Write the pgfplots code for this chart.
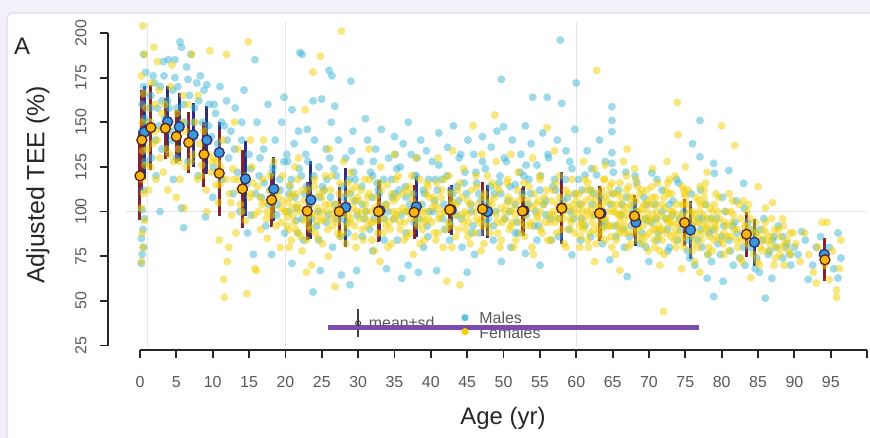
\documentclass[border=0pt]{standalone}
\usepackage{fontspec}
\setmainfont{Liberation Sans}
\usepackage{pgfplots}
\pgfplotsset{compat=1.18}
\definecolor{bgout}{HTML}{F3F0FA}
\definecolor{panelbd}{HTML}{E2D6F2}
\definecolor{mcyan}{HTML}{3FB6D6}
\definecolor{fyel}{HTML}{F2D000}
\definecolor{mfill}{HTML}{3C97DA}
\definecolor{mbar}{HTML}{2C2F7C}
\definecolor{ffill}{HTML}{F5B614}
\definecolor{fbar}{HTML}{86222F}
\definecolor{fedge}{HTML}{5A2414}
\definecolor{purp}{HTML}{7D4BAE}
\definecolor{refl}{HTML}{E4E4E4}
\begin{document}
\begin{tikzpicture}[x=1bp,y=1bp]
\useasboundingbox (0,0) rectangle (870,438);
\fill[bgout] (0,0) rectangle (870,438);
\filldraw[fill=white, draw=panelbd, line width=1.2bp, rounded corners=6bp] (7,425) rectangle (890,-20);
\node[font=\fontsize{24}{24}\selectfont, text=black!85] at (22,392) {A};
\node[font=\fontsize{24}{24}\selectfont, text=black!85] at (503,20) {Age (yr)};
\node[font=\fontsize{25}{25}\selectfont, text=black!85, rotate=90] at (38,253) {Adjusted TEE (\%)};
\begin{axis}[
  at={(108bp,88bp)}, anchor=south west, scale only axis,
  width=762bp, height=334.9bp,
  xmin=-4.4, xmax=100.4, ymin=22.5, ymax=210,
  axis lines=left, axis line style={draw=none},
  clip=false,
  tick align=outside, major tick length=8bp,
  tick style={line width=1.8bp, black!85},
  xtick={0,5,...,100},
  xticklabels={0,5,10,15,20,25,30,35,40,45,50,55,60,65,70,75,80,85,90,95,},
  ytick={25,50,...,200},
  yticklabels={25,50,75,100,125,150,175,200},
  /pgf/number format/assume math mode=true,
  xticklabel style={font=\fontsize{16}{16}\selectfont, text=black!65, yshift=-15bp},
  yticklabel style={font=\fontsize{16}{16}\selectfont, text=black!65, xshift=-10bp, rotate=90, anchor=south},
]
% faint reference lines
\draw[refl, line width=1bp] (axis cs:1,24) -- (axis cs:1,206);
\draw[refl, line width=1bp] (axis cs:20,24) -- (axis cs:20,206);
\draw[refl, line width=1bp] (axis cs:60,24) -- (axis cs:60,206);
\draw[refl, line width=1bp] (axis cs:-2,100) -- (axis cs:100,100);
% axis lines
\draw[black!85, line width=1.8bp] (axis cs:0,22.5) -- (axis cs:100,22.5);
\draw[black!85, line width=1.8bp] (axis cs:-4.4,25) -- (axis cs:-4.4,200);

% males scatter
\addplot[only marks, mark=*, mark size=4bp, mark options={fill=mcyan, draw opacity=0, fill opacity=0.5}] coordinates {
(0.2,71)(0.3,76)(0.5,80)(0.2,85)(0.4,90)(0.6,96)(0.3,101)(0.5,112)(0.7,128)(0.4,140)(0.6,152)(0.3,160)(0.5,170)(0.5,188)(0.8,178)(0.2,145)
(1.2,150)(1.5,165)(1.8,176)(2.1,140)(2.4,158)(2.75,100)(2.8,170)(3.2,184)(3.5,152)(3.8,162)(1.6,130)(2.2,120)(3.0,135)(3.9,185)
(4.2,145)(4.5,168)(4.8,175)(5.1,158)(5.5,195)(5.7,192)(5.7,102)(6.0,91)(6.2,150)(6.4,181)(6.8,165)(7.2,140)(7.5,158)(7.8,172)(5.0,130)(4.6,118)(6.6,128)(7.0,188)
(8.3,176)(8.6,150)(8.9,132)(9.2,171)(9.5,160)(9.8,142)(10.1,125)(10.4,155)(10.7,138)(11.0,170)(11.3,118)(11.6,148)(11.9,162)(8.0,120)(10.0,108)(9.0,97)
(1.4,158)(2.0,172)(2.6,148)(3.3,176)(4.0,158)(4.4,140)(5.2,170)(6.0,160)(6.6,174)(7.4,150)(8.1,162)(8.8,168)(9.4,148)(10.2,160)(11.2,150)(12.0,140)(13.0,135)(14.0,150)(4.8,185)(3.0,162)
(12.2,130)(12.5,145)(12.8,110)(13.1,158)(13.4,122)(13.7,100)(14.0,140)(14.3,168)(14.6,115)(15.0,132)(15.3,98)(15.6,76)(15.8,185)(16.1,150)(16.4,120)(16.7,108)(17.0,135)(17.3,92)(17.6,160)(18.1,76)(18.3,125)(18.6,140)(18.9,104)(19.2,118)(19.5,150)(19.8,164)(19.9,88)(17.9,112)(14.8,88)
(20.3,128)(20.5,110)(20.9,157)(20.9,71)(21.2,138)(21.5,95)(21.8,145)(22.0,189)(22.2,120)(22.5,84)(22.8,132)(23.0,146)(23.3,105)(23.8,162)(23.8,55)(24.0,140)(24.3,92)(24.6,125)(24.8,67)(25.0,163)(25.3,112)(25.6,135)(25.9,98)(26.0,179)(26.3,150)(26.5,80)(26.8,159)(27.0,120)(27.3,140)(27.7,64.5)(28.0,108)(28.3,130)(28.6,88)(28.9,59)(29.0,173)(29.3,145)(29.6,118)(29.8,67)(26.4,176)(22.3,188)(27.0,96)
(30.3,128)(30.6,104)(31.0,152)(31.3,140)(31.6,90)(32.0,120)(32.4,135)(32.8,112)(33.2,146)(33.6,96)(33.9,68)(34.2,130)(34.6,118)(35.0,142)(35.4,84)(35.8,125)(36.0,62.6)(36.2,138)(36.6,108)(36.9,150)(36.9,70)(37.3,132)(37.7,94)(38.0,120)(38.3,66)(38.6,140)(39.0,112)(39.4,134)(39.8,100)(32.0,78)(35.0,110)(39.0,80)
(40.2,128)(40.5,106)(40.8,67)(41.1,144)(41.5,118)(41.9,90)(42.3,136)(42.7,112)(43.1,148)(43.5,98)(43.9,130)(44.3,80)(44.7,122)(45.0,66)(45.1,140)(45.5,104)(45.9,132)(46.3,116)(46.7,88)(47.1,142)(47.5,124)(47.9,96)(48.3,136)(48.7,110)(49.1,145)(49.7,72)(49.7,174)(50.0,147.5)(49.5,120)(43.0,110)(46.0,76)
(50.4,128)(50.8,100)(51.2,140)(51.6,115)(52.0,88)(52.4,132)(52.8,120)(53.0,148)(53.0,76.6)(53.4,104)(53.8,138)(54.0,164)(54.2,92)(54.6,126)(55.0,112)(55.4,144)(55.8,98)(56.0,164)(56.2,130)(56.6,84)(57.0,118)(57.4,140)(57.8,196)(58.0,160.6)(58.2,106)(58.6,134)(59.0,90)(59.4,75.7)(59.4,124)(59.8,146)(51.0,80)(55.0,70)
(60.0,172)(60.3,118)(60.7,96)(61.2,120.5)(61.5,134)(62.0,86)(62.4,110)(62.8,120.5)(63.2,140)(63.6,100)(64.0,128)(64.6,73)(64.9,158.7)(64.9,151)(64.9,144.7)(64.9,133)(64.9,127)(65.3,92)(65.8,112)(66.3,104)(66.8,122)(67.0,63.6)(67.3,86)(67.8,100)(68.3,116)(68.8,82)(69.3,108)(69.8,95)(70.0,72)
(70.4,121.6)(70.8,104)(71.3,88)(71.8,112)(72.3,96)(72.8,80)(73.3,106)(73.8,118)(74.3,90)(74.8,100)(75.3,84)(75.8,110)(76.0,138)(76.3,70)(76.8,96)(77.0,151)(77.0,130.7)(77.3,80)(77.8,104)(78.0,62.7)(78.3,88)(78.9,127)(78.9,52.4)(79.0,121.4)(79.3,96)(79.8,76)
(80.2,61)(80.5,100)(81.0,123)(81.0,84)(81.5,92)(82.0,106)(82.5,74)(83.0,115.8)(83.2,70)(83.6,94)(84.0,80)(84.6,88)(85.2,66)(85.8,96)(86.0,51.5)(86.4,76)(86.9,62.6)(87.2,86)(87.8,92)(88.4,74)(89.0,82)(89.5,70)(90.0,80)
(90.5,76)(91.0,88.8)(91.5,84)(91.9,62)(92.5,70)(93.0,80)(93.6,86)(94.2,72)(94.8,80)(95.4,68)(96.0,88)(96.0,62.8)(96.4,74)
(15.2,124)(15.9,110)(16.5,130)(17.1,116)(17.7,104)(18.2,122)(18.8,98)(19.3,112)(19.8,128)
(20.4,100)(20.8,118)(21.3,108)(21.9,124)(22.3,96)(22.9,114)(23.4,104)(23.9,120)(24.5,100)(25.1,114)(25.6,94)(26.2,108)(26.7,124)(27.3,100)(27.8,114)(28.4,94)(28.9,110)(29.4,122)(29.9,98)
(30.5,114)(31.1,100)(31.7,122)(32.2,96)(32.9,110)(33.5,118)(34.1,100)(34.7,108)(35.3,124)(35.9,98)(36.5,114)(37.1,104)(37.8,120)(38.4,96)(39.1,110)(39.7,118)
(40.3,100)(40.9,112)(41.6,96)(42.2,120)(42.9,104)(43.6,114)(44.2,96)(44.9,110)(45.6,100)(46.2,122)(46.9,106)(47.6,94)(48.2,114)(48.9,100)(49.6,110)
(50.2,96)(50.9,114)(51.6,104)(52.3,122)(53.1,98)(53.7,110)(54.4,100)(55.1,120)(55.8,106)(56.5,96)(57.2,112)(57.9,102)(58.5,118)(59.2,100)(59.8,110)
(60.5,104)(61.2,92)(61.9,112)(62.6,98)(63.3,108)(64.0,94)(64.7,104)(65.5,86)(66.2,98)(66.9,108)(67.6,92)(68.3,100)(69.0,88)(69.7,104)
(70.4,94)(71.1,84)(71.8,100)(72.5,90)(73.2,98)(73.9,84)(74.6,94)(75.3,78)(76.0,92)(76.7,84)(77.4,96)(78.1,76)(78.8,90)(79.5,82)
(80.3,92)(81.2,78)(82.1,88)(83.0,80)(83.9,90)(84.8,74)(85.7,84)(86.6,78)(87.5,80)(88.4,86)(89.4,76)
(20.6,114)(21.5,102)(22.6,110)(23.6,96)(24.7,108)(25.7,118)(26.8,104)(27.9,96)(28.8,118)(29.6,106)(30.8,96)(31.9,108)(32.6,116)(33.8,104)(34.9,96)(35.6,112)(36.8,100)(37.6,110)(38.8,104)(39.5,92)
(40.6,118)(41.8,104)(42.6,94)(43.8,106)(44.6,116)(45.8,92)(46.6,110)(47.8,104)(48.6,92)(49.4,116)(50.6,106)(51.8,94)(52.6,110)(53.5,118)(54.8,92)(55.5,104)(56.8,114)(57.6,96)(58.8,108)(59.6,96)
(60.8,112)(62.2,104)(63.8,92)(65.0,110)(66.5,90)(67.9,104)(69.5,96)(71.0,96)(72.8,104)(74.2,96)(75.8,86)(77.1,90)(78.5,96)(80.0,86)(81.8,94)(83.5,86)(85.3,90)(87.0,84)(88.8,80)
(20.2,132)(21.7,88)(23.1,128)(24.6,84)(26.1,130)(27.6,86)(29.1,134)(30.6,86)(32.1,128)(33.6,84)(35.1,132)(36.6,88)(38.1,130)(39.6,86)(41.1,126)(42.6,84)(44.1,132)(45.6,88)(47.1,128)(48.6,84)
(50.1,130)(51.6,88)(53.1,126)(54.6,84)(56.1,132)(57.6,86)(59.1,128)(60.6,84)(62.1,124)(63.6,82)(65.1,122)(66.6,80)(68.1,120)(69.6,80)(71.1,118)(72.6,78)(74.1,116)(75.6,74)(77.1,112)(78.6,72)(80.1,108)(81.6,70)(83.1,102)(84.6,68)
};

% females scatter
\addplot[only marks, mark=*, mark size=4bp, mark options={fill=fyel, draw opacity=0, fill opacity=0.5}] coordinates {
(0.2,72)(0.4,80)(0.3,88)(0.6,95)(0.2,102)(0.5,110)(0.3,118)(0.7,126)(0.4,134)(0.6,142)(0.3,150)(0.8,158)(0.5,166)(0.2,176)(0.6,188)(0.4,204)
(1.2,112)(1.5,125)(1.8,138)(1.4,150)(2.1,160)(1.6,172)(2.4,184)(2.7,130)(2.2,118)(2.9,146)(1.9,192)(2.6,168)
(3.2,122)(3.6,135)(3.9,148)(3.4,160)(4.2,170)(4.6,128)(4.8,142)(5.1,155)(5.5,118)(5.3,135)(5.8,150)(4.4,182)(5.9,165)(3.8,112)(6.1,102)(5.0,108)
(6.4,125)(6.8,140)(7.1,188)(7.3,132)(7.6,150)(7.9,118)(8.2,138)(8.5,126)(8.8,145)(9.1,112)(9.4,132)(9.6,190)(9.8,122)(6.6,160)(8.0,165)(9.2,100)
(1.0,135)(2.0,145)(3.0,155)(4.0,132)(5.4,128)(6.2,145)(7.0,128)(8.4,120)(9.9,128)(11.0,115)(12.5,105)(13.5,118)(14.0,100)(2.4,140)(4.2,150)
(10.2,130)(10.5,115)(10.8,105)(11.1,125)(11.5,62)(11.6,52)(11.9,188)(12.0,72)(12.3,110)(12.6,98)(12.9,118)(13.2,88)(13.5,135)(13.8,104)(12.2,80)(11.4,140)(10.9,84)(13.0,150)
(14.2,115)(14.5,95)(14.7,54)(14.9,195)(15.1,108)(15.4,125)(15.8,68)(16.0,67)(16.3,100)(16.6,90)(16.9,118)(17.2,105)(17.5,85)(17.8,112)(18.1,98)(18.4,128)(18.7,92)(19.0,108)(19.3,80)(19.6,120)(19.9,100)(15.2,140)(17.0,140)
(20.2,92)(20.4,105)(20.6,115)(20.8,84)(21.0,98)(21.3,125)(21.5,110)(21.7,88)(22.0,102)(22.3,78)(22.5,95)(22.7,157)(22.9,66)(23.1,112)(23.3,104)(23.5,90)(23.8,178)(24.0,118)(24.2,98)(24.5,85)(24.8,187)(25.0,108)(25.2,95)(25.5,120)(25.7,100)(25.9,75)(26.2,112)(26.5,92)(26.8,58)(27.0,104)(27.2,88)(27.5,116)(27.7,201)(28.0,98)(28.3,82)(28.5,110)(28.8,94)(29.0,122)(29.3,102)(29.6,86)(29.9,108)(21.8,130)(26.0,135)(28.0,128)(23.6,70)
(30.2,96)(30.4,112)(30.7,84)(31.0,104)(31.3,92)(31.6,118)(31.9,100)(32.2,78)(32.5,108)(32.8,95)(33.1,125)(33.4,88)(33.7,102)(34.0,115)(34.3,94)(34.6,82)(34.9,106)(35.2,98)(35.5,120)(35.8,90)(36.1,110)(36.4,100)(36.7,86)(37.0,114)(37.3,96)(37.6,76)(37.9,104)(38.2,92)(38.5,118)(38.8,100)(39.1,84)(39.4,110)(39.7,96)(31.5,135)(35.0,132)(38.0,130)(33.0,72)
(40.2,102)(40.5,88)(40.8,116)(41.1,96)(41.4,108)(41.7,80)(42.0,100)(42.2,61)(42.5,120)(42.8,92)(43.1,104)(43.4,86)(43.7,112)(44.0,59)(44.2,98)(44.5,124)(44.8,90)(45.1,106)(45.4,82)(45.8,148)(46.0,100)(46.3,114)(46.6,94)(46.9,78)(47.2,108)(47.5,98)(47.8,120)(48.1,88)(48.4,104)(48.8,154)(49.1,94)(49.4,112)(49.7,84)(41.0,130)(43.0,134)(47.0,132)(49.0,128)
(50.2,100)(50.5,116)(50.8,90)(51.1,106)(51.4,80)(51.7,98)(52.0,122)(52.3,94)(52.6,108)(52.9,86)(53.2,102)(53.5,114)(53.8,92)(54.1,76)(54.4,104)(54.7,96)(55.0,118)(55.3,88)(55.6,108)(56.0,147)(56.2,98)(56.5,84)(56.8,112)(57.1,94)(57.4,104)(57.7,120)(58.0,90)(58.3,100)(58.6,80)(58.9,110)(59.2,96)(59.5,104)(59.8,88)(51.0,132)(54.0,130)(57.0,134)
(60.2,98)(60.4,110)(60.6,86)(60.8,104)(61.0,92)(61.2,118)(61.5,100)(61.7,80)(62.0,108)(62.2,94)(62.5,124)(62.8,179)(63.0,88)(63.2,102)(63.5,112)(63.8,96)(64.0,84)(64.3,106)(64.6,92)(64.9,116)(65.1,100)(65.4,76)(65.7,110)(66.0,67)(66.0,94)(66.3,104)(66.6,88)(66.9,120)(67.0,135)(67.2,98)(67.5,82)(67.8,108)(68.1,92)(68.4,114)(68.7,100)(69.0,86)(69.3,104)(69.6,96)(69.9,78)(61.0,128)(64.0,126)(68.0,124)(62.5,72)(66.5,128)(63.6,90)(65.8,98)(69.0,112)
(70.2,94)(70.4,108)(70.7,84)(71.0,100)(71.2,116)(71.5,90)(71.8,104)(72.0,44)(72.1,76)(72.4,96)(72.7,110)(73.0,86)(73.3,100)(73.6,120)(73.9,161)(74.0,143)(74.2,92)(74.5,104)(74.8,80)(75.1,96)(75.4,112)(75.7,88)(76.0,100)(76.3,72)(76.6,94)(76.9,106)(77.2,84)(77.5,98)(77.8,116)(78.1,90)(78.4,102)(78.7,78)(79.0,94)(79.3,86)(79.6,108)(80.0,148)(70.5,124)(72.5,128)(75.0,125)(78.0,122)(71.5,70)(74.5,68)(77.0,66)(73.0,94)(76.0,90)
(80.3,88)(80.6,100)(81.0,78)(81.4,94)(81.8,137)(82.0,84)(82.4,104)(82.8,72)(83.2,92)(83.6,82)(84.0,63)(84.0,96)(84.4,76)(84.8,88)(85.0,114)(85.2,70)(85.6,84)(86.0,94)(86.4,78)(86.8,86)(87.0,105)(87.4,74)(87.8,90)(88.2,80)(88.6,70)(89.0,84)(89.5,76)(81.0,110)(83.0,106)
(90.2,82)(90.8,72)(91.4,88)(92.0,76)(92.6,66)(93.2,80)(93.8,94)(94.2,70)(94.5,94)(94.8,62)(95.2,78)(95.8,56)(95.8,52)(96.2,68)(96.4,84)(93.0,60)
(15.3,110)(15.7,98)(16.2,114)(16.8,104)(17.4,96)(17.9,120)(18.3,102)(18.9,112)(19.4,94)(19.7,106)
(20.1,100)(20.5,90)(20.9,110)(21.2,94)(21.6,104)(22.1,86)(22.4,112)(22.8,100)(23.2,92)(23.7,108)(24.1,88)(24.4,102)(24.9,96)(25.3,112)(25.8,90)(26.1,104)(26.6,100)(27.1,94)(27.4,110)(27.9,88)(28.2,104)(28.7,98)(29.1,112)(29.5,92)(29.8,100)
(30.1,106)(30.6,90)(31.1,100)(31.5,110)(31.8,94)(32.3,102)(32.7,88)(33.2,112)(33.5,96)(33.9,104)(34.4,90)(34.8,100)(35.3,108)(35.7,94)(36.2,102)(36.6,112)(37.1,88)(37.5,106)(38.0,96)(38.4,104)(38.9,90)(39.3,100)(39.8,108)
(40.1,94)(40.6,104)(41.0,88)(41.5,112)(41.9,100)(42.4,94)(42.9,106)(43.3,98)(43.8,90)(44.3,108)(44.7,100)(45.2,94)(45.6,112)(46.1,88)(46.5,104)(47.0,96)(47.4,110)(47.9,92)(48.3,100)(48.8,108)(49.2,88)(49.6,102)
(50.1,96)(50.6,108)(51.0,92)(51.5,102)(51.9,112)(52.4,88)(52.8,100)(53.3,106)(53.7,94)(54.2,110)(54.6,98)(55.1,90)(55.5,104)(55.9,112)(56.4,94)(56.8,100)(57.3,88)(57.7,108)(58.2,96)(58.6,112)(59.1,90)(59.6,100)
(60.0,106)(60.5,92)(60.9,100)(61.4,112)(61.8,88)(62.3,98)(62.7,106)(63.1,92)(63.6,104)(64.0,96)(64.5,110)(64.8,86)(65.3,100)(65.7,92)(66.2,108)(66.6,96)(67.1,88)(67.4,104)(67.9,94)(68.3,100)(68.8,110)(69.2,92)(69.7,100)
(70.0,88)(70.5,98)(70.9,108)(71.4,92)(71.8,84)(72.2,102)(72.6,94)(73.1,110)(73.5,88)(73.9,98)(74.4,84)(74.8,104)(75.2,92)(75.6,100)(76.1,86)(76.5,108)(76.9,94)(77.4,88)(77.7,104)(78.2,80)(78.6,96)(79.1,90)(79.5,100)(79.9,84)
(80.4,94)(80.8,86)(81.3,100)(81.7,90)(82.2,80)(82.6,96)(83.1,86)(83.5,100)(84.2,84)(84.7,94)(85.3,80)(85.8,90)(86.3,84)(86.9,96)(87.5,80)(88.0,86)(88.5,92)(89.2,78)(89.8,88)
(61.1,96)(62.0,102)(63.0,110)(64.2,92)(65.0,104)(66.0,98)(67.0,102)(68.0,88)(69.0,96)(70.2,104)(71.1,96)(72.0,90)(73.0,100)(74.0,94)(75.0,108)(76.0,96)(77.0,100)(78.0,92)(79.0,104)
(65.5,84)(68.5,84)(72.8,118)(70.8,80)(74.6,114)(77.6,112)(76.8,80)(66.9,112)(63.9,118)(61.6,84)
(21.0,102)(23.0,96)(25.0,100)(27.0,98)(29.0,96)(31.0,96)(33.0,100)(35.0,96)(37.0,100)(39.0,96)(41.0,102)(43.0,100)(45.0,98)(47.0,102)(49.0,98)(51.0,100)(53.0,98)(55.0,100)(57.0,98)(59.0,102)
(20.3,97)(20.7,108)(21.4,90)(21.9,100)(22.6,106)(23.4,98)(24.3,94)(24.7,110)(25.5,104)(26.3,96)(27.6,102)(28.4,92)(29.2,106)(29.7,114)(30.4,100)(31.3,108)(32.0,94)(32.9,104)(33.8,92)(34.6,110)(35.5,100)(36.4,94)(37.3,110)(38.2,100)(39.1,94)(39.6,114)
(40.4,108)(41.2,98)(42.1,90)(42.7,110)(43.5,104)(44.5,94)(45.4,104)(46.3,96)(47.2,92)(48.1,106)(49.0,114)(49.8,94)(50.4,104)(51.2,94)(52.1,106)(53.0,92)(53.9,102)(54.8,106)(55.7,94)(56.6,106)(57.5,96)(58.4,104)(59.3,94)(59.9,110)
(60.3,102)(60.7,94)(61.3,106)(61.9,98)(62.4,90)(62.9,102)(63.4,96)(63.8,108)(64.4,100)(64.7,92)(65.2,110)(65.6,104)(66.1,90)(66.4,100)(66.8,92)(67.3,108)(67.7,98)(68.2,106)(68.6,92)(69.1,102)(69.5,86)(69.8,106)
(70.1,96)(70.6,90)(71.0,104)(71.3,86)(71.7,98)(72.1,108)(72.4,88)(72.9,96)(73.3,92)(73.7,104)(74.1,88)(74.6,98)(75.0,86)(75.4,104)(75.9,92)(76.3,98)(76.7,88)(77.1,104)(77.5,92)(77.9,96)(78.3,86)(78.8,100)(79.2,92)(79.7,96)
(80.2,82)(80.7,92)(81.2,86)(81.6,98)(82.1,90)(82.7,84)(83.3,92)(83.8,88)(84.4,90)(85.0,86)(85.6,78)(86.1,88)(86.7,82)(87.3,90)(88.0,76)(88.7,82)(89.4,88)
(15.5,116)(16.5,108)(17.5,100)(18.5,110)(19.5,102)(14.6,120)(13.6,112)(12.8,124)(11.8,118)(10.6,128)
(20.5,80)(21.7,118)(22.9,84)(24.0,114)(25.1,82)(26.4,120)(27.5,86)(28.6,116)(29.7,80)(30.9,118)(31.9,84)(33.0,116)(34.1,80)(35.2,118)(36.3,84)(37.4,120)(38.5,82)(39.5,116)
(40.7,84)(41.8,118)(42.9,80)(44.0,116)(45.1,86)(46.2,120)(47.3,82)(48.4,116)(49.5,80)(50.6,118)(51.7,84)(52.8,116)(53.9,80)(55.0,120)(56.1,84)(57.2,116)(58.3,82)(59.4,118)
(60.5,80)(61.6,116)(62.7,82)(63.8,118)(64.9,80)(66.0,116)(67.1,80)(68.2,118)(69.3,82)(70.4,114)(71.5,78)(72.6,116)(73.7,80)(74.8,112)(75.9,78)(77.0,114)(78.1,76)(79.2,110)
(80.3,76)(81.5,106)(82.6,74)(83.7,104)(84.9,72)(86.0,102)(87.2,70)(88.4,96)
(60.9,90)(62.1,112)(63.3,86)(64.6,114)(65.9,88)(67.2,114)(68.4,90)(69.7,112)(70.9,90)(72.3,112)(73.5,84)(74.9,110)(76.2,82)(77.6,108)(78.9,84)
};

% male means +- sd
\addplot[only marks, mark=*, mark size=5bp, mark options={fill=mfill, draw=mbar, line width=1.3bp},
  error bars/.cd, y dir=both, y explicit, error mark=none,
  error bar style={line width=3bp, mbar}] coordinates {
(0.6,144.5) +- (0,26)
(3.8,150.3) +- (0,20)
(5.4,147.5) +- (0,19)
(7.3,142.9) +- (0,18)
(9.2,140) +- (0,19)
(10.9,133) +- (0,17)
(14.5,118.3) +- (0,21)
(18.4,112.7) +- (0,18)
(23.5,106.5) +- (0,22)
(28.3,102.4) +- (0,22)
(33,100.5) +- (0,17)
(38,102.7) +- (0,17)
(42.8,101) +- (0,14)
(47.8,100) +- (0,15)
(52.8,100.5) +- (0,14)
(58,102) +- (0,20)
(63.4,99) +- (0,14)
(68.2,94) +- (0,13)
(75.7,89.7) +- (0,16)
(84.5,82.8) +- (0,13)
(94.1,76) +- (0,8)
};

% female means +- sd
\addplot[only marks, mark=*, mark size=5bp, mark options={fill=ffill, draw=fedge, line width=1.3bp},
  error bars/.cd, y dir=both, y explicit, error mark=none,
  error bar style={line width=3bp, fbar}] coordinates {
(0,120) +- (0,25)
(0.25,140) +- (0,28)
(1.5,147) +- (0,24)
(3.5,146.6) +- (0,17)
(5.0,142) +- (0,15)
(6.7,138.6) +- (0,17)
(8.8,132) +- (0,18)
(10.9,121.4) +- (0,24)
(14.1,112.7) +- (0,22)
(18.1,106.5) +- (0,15)
(23.0,100.3) +- (0,16)
(27.4,100) +- (0,14)
(32.8,100) +- (0,17)
(37.7,99.6) +- (0,15)
(42.6,101) +- (0,13)
(47.1,101.4) +- (0,15)
(52.6,100.3) +- (0,13)
(58,101.8) +- (0,14)
(63.2,99) +- (0,15.5)
(68,97.5) +- (0,12)
(74.9,93.8) +- (0,13)
(83.4,87.3) +- (0,12.5)
(94.2,73) +- (0,12)
};

% legend
\addplot[only marks, mark=o, mark size=2.5bp, mark options={black!75, line width=1bp},
  error bars/.cd, y dir=both, y explicit, error mark=none,
  error bar style={line width=1.6bp, black!75}] coordinates {(30,37.5) +- (0,8)};
\addplot[only marks, mark=*, mark size=3.6bp, mark options={fill=mcyan!85!white, draw opacity=0}] coordinates {(44.7,40.6)};
\addplot[only marks, mark=*, mark size=3.6bp, mark options={fill=fyel, draw opacity=0}] coordinates {(44.7,32.8)};
\node[anchor=west, font=\fontsize{16}{16}\selectfont, text=black!65] at (axis cs:31.0,37.5) {mean±sd};
\node[anchor=west, font=\fontsize{16}{16}\selectfont, text=black!65] at (axis cs:46.2,40.8) {Males};
\node[anchor=west, font=\fontsize{16}{16}\selectfont, text=black!65] at (axis cs:46.2,32.4) {Females};
\draw[purp, line width=5.5bp] (axis cs:25.8,35.1) -- (axis cs:76.9,35.1);
\end{axis}
\end{tikzpicture}
\end{document}
